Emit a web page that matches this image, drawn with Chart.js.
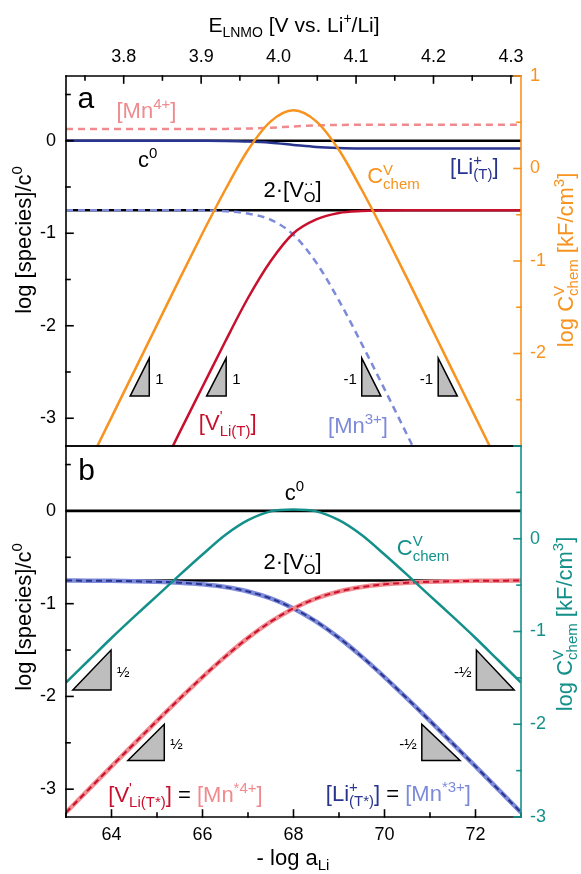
<!DOCTYPE html>
<html>
<head>
<meta charset="utf-8">
<script src="https://cdn.jsdelivr.net/npm/chart.js@4.4.1/dist/chart.umd.min.js"></script>
<style>
  body { margin: 0; background: #fff; }
  #wrap { position: relative; width: 581px; height: 874px; }
  #chartA { position: absolute; left: 0; top: 0; }
  #chartB { position: absolute; left: 0; top: 440px; }
</style>
</head>
<body>
<div id="wrap">
  <canvas id="chartA" width="581" height="452"></canvas>
  <canvas id="chartB" width="581" height="434"></canvas>
</div>
<script>
// -log a_Li grid used by every curve
var logA = [63, 63.5, 64, 64.5, 65, 65.5, 66, 66.5, 67, 67.5, 68, 68.5, 69, 69.5, 70, 70.5, 71, 71.5, 72, 72.5, 73];

// constant reference lines (c0 and 2[V_O])
var flatX = [63, 73];
var c0Line = [0, 0];
var vo2Line = [-0.75, -0.75];

// panel a, log [species]/c0
var mn4A = [0.126, 0.126, 0.126, 0.126, 0.126, 0.126, 0.127, 0.128, 0.132, 0.141, 0.155, 0.166, 0.171, 0.173, 0.174, 0.174, 0.174, 0.174, 0.174, 0.174, 0.174];
var liA  = [0, 0, 0, 0, 0, 0, -0.001, -0.003, -0.009, -0.022, -0.045, -0.067, -0.078, -0.083, -0.084, -0.085, -0.085, -0.085, -0.085, -0.085, -0.085];
var vliA = [-5.65, -5.15, -4.65, -4.15, -3.65, -3.15, -2.66, -2.17, -1.70, -1.30, -1.00, -0.85, -0.78, -0.76, -0.754, -0.751, -0.75, -0.75, -0.75, -0.75, -0.75];
var mn3A = [-0.75, -0.75, -0.75, -0.75, -0.75, -0.751, -0.754, -0.761, -0.787, -0.854, -1.017, -1.317, -1.728, -2.196, -2.685, -3.182, -3.68, -4.18, -4.68, -5.18, -5.68];
// panel a, log C_chem [kF/cm3]
var cchemA = [-3.69, -3.19, -2.69, -2.19, -1.69, -1.19, -0.70, -0.23, 0.20, 0.51, 0.63, 0.51, 0.20, -0.23, -0.70, -1.19, -1.69, -2.19, -2.69, -3.19, -3.69];

// panel b
var vliB = [-3.251, -3.002, -2.754, -2.508, -2.264, -2.024, -1.791, -1.571, -1.369, -1.194, -1.051, -0.944, -0.869, -0.821, -0.791, -0.774, -0.764, -0.758, -0.754, -0.752, -0.751];
var liB  = [-0.751, -0.752, -0.754, -0.758, -0.764, -0.774, -0.791, -0.821, -0.869, -0.944, -1.051, -1.194, -1.369, -1.571, -1.791, -2.024, -2.264, -2.508, -2.754, -3.002, -3.251];
var cchemB = [-1.55, -1.31, -1.07, -0.84, -0.616, -0.39, -0.17, 0.04, 0.20, 0.295, 0.315, 0.295, 0.20, 0.04, -0.17, -0.39, -0.616, -0.84, -1.07, -1.31, -1.55];

// axis ranges and ticks
var eRange = [3.7255, 4.313];
var eTicks = [3.8, 3.9, 4.0, 4.1, 4.2, 4.3];
var eMinor = [3.75, 3.85, 3.95, 4.05, 4.15, 4.25];
var logATicks = [64, 66, 68, 70, 72];
var logAMinor = [63, 65, 67, 69, 71, 73];
var speciesTicks = [-3, -2, -1, 0];
var halfMinor = [-2.5, -1.5, -0.5, 0.5];
var cchemTicksA = [-2, -1, 0, 1];
var cchemTicksB = [-3, -2, -1, 0];

var FONT = '"Liberation Sans", Arial, sans-serif';
var ORANGE = '#F7931E', TEAL = '#14908A', RED = '#C8102E', PINK = '#F08A8E',
    NAVY = '#28348E', LBLUE = '#7D8AD9', BLACK = '#000000';

function pts(xs, ys) {
  return xs.map(function (x, i) { return { x: x, y: ys[i] }; });
}

function curve(data, color, width, extra) {
  return Object.assign({
    data: data, borderColor: color, borderWidth: width, pointRadius: 0,
    fill: false, cubicInterpolationMode: 'monotone', clip: 0
  }, extra || {});
}

// text with sub/superscripts: parts are {t}, {sup}, {sub} or {sup, sub} stacked
function richWidth(ctx, parts, size) {
  var w = 0;
  parts.forEach(function (p) {
    if (p.t !== undefined) {
      ctx.font = size + 'px ' + FONT;
      w += ctx.measureText(p.t).width;
    } else {
      ctx.font = Math.round(size * 0.68) + 'px ' + FONT;
      w += Math.max(p.sup ? ctx.measureText(p.sup).width : 0, p.sub ? ctx.measureText(p.sub).width : 0);
    }
  });
  return w;
}

function drawRich(ctx, parts, x, y, size, color, align) {
  var cx = x;
  if (align === 'center') cx -= richWidth(ctx, parts, size) / 2;
  ctx.textAlign = 'left';
  ctx.textBaseline = 'alphabetic';
  parts.forEach(function (p) {
    ctx.fillStyle = p.c || color;
    if (p.t !== undefined) {
      ctx.font = size + 'px ' + FONT;
      ctx.fillText(p.t, cx, y);
      cx += ctx.measureText(p.t).width;
    } else {
      ctx.font = Math.round(size * 0.68) + 'px ' + FONT;
      var w = 0;
      if (p.sup) { ctx.fillText(p.sup, cx, y - size * 0.4); w = ctx.measureText(p.sup).width; }
      if (p.sub) { ctx.fillText(p.sub, cx, y + size * 0.24); w = Math.max(w, ctx.measureText(p.sub).width); }
      cx += w;
    }
  });
}

// in-plot labels, placed in data units (left edge, baseline)
var labelsA = [
  { x: 63.25, y: 0.354, size: 30, color: BLACK, parts: [{ t: 'a' }] },
  { x: 64.11, y: 0.243, size: 22, color: PINK, parts: [{ t: '[Mn' }, { sup: '4+' }, { t: ']' }] },
  { x: 64.58, y: -0.28, size: 22, color: BLACK, parts: [{ t: 'c' }, { sup: '0' }] },
  { x: 67.34, y: -0.605, size: 22, color: BLACK, parts: [{ t: '2·[V' }, { sup: '··', sub: 'O' }, { t: ']' }] },
  { x: 69.62, y: -0.46, size: 22, color: ORANGE, parts: [{ t: 'C' }, { sup: 'V', sub: 'chem' }] },
  { x: 71.44, y: -0.36, size: 22, color: NAVY, parts: [{ t: '[Li' }, { sup: '+', sub: '(T)' }, { t: ']' }] },
  { x: 65.92, y: -3.13, size: 22, color: RED, parts: [{ t: '[V' }, { sup: '\'', sub: 'Li(T)' }, { t: ']' }] },
  { x: 68.76, y: -3.16, size: 22, color: LBLUE, parts: [{ t: '[Mn' }, { sup: '3+' }, { t: ']' }] }
];

var labelsB = [
  { x: 63.27, y: 0.332, size: 30, color: BLACK, parts: [{ t: 'b' }] },
  { x: 67.81, y: 0.116, size: 22, color: BLACK, parts: [{ t: 'c' }, { sup: '0' }] },
  { x: 67.34, y: -0.622, size: 22, color: BLACK, parts: [{ t: '2·[V' }, { sup: '··', sub: 'O' }, { t: ']' }] },
  { x: 70.27, y: -0.478, size: 22, color: TEAL, parts: [{ t: 'C' }, { sup: 'V', sub: 'chem' }] },
  { x: 63.93, y: -3.135, size: 22, color: BLACK, parts: [
    { t: '[V', c: RED }, { sup: '\'', sub: 'Li(T*)', c: RED }, { t: ']', c: RED }, { t: ' = ' },
    { t: '[Mn', c: PINK }, { sup: '*4+', c: PINK }, { t: ']', c: PINK }] },
  { x: 68.71, y: -3.127, size: 22, color: BLACK, parts: [
    { t: '[Li', c: NAVY }, { sup: '+', sub: '(T*)', c: NAVY }, { t: ']', c: NAVY }, { t: ' = ' },
    { t: '[Mn', c: LBLUE }, { sup: '*3+', c: LBLUE }, { t: ']', c: LBLUE }] }
];

// slope triangles: x/y extents in data units, 'up' = rising hypotenuse
var slopesA = [
  { x0: 64.41, x1: 64.83, y0: -2.76, y1: -2.35, dir: 'up', text: '1' },
  { x0: 66.09, x1: 66.52, y0: -2.76, y1: -2.35, dir: 'up', text: '1' },
  { x0: 69.50, x1: 69.92, y0: -2.76, y1: -2.35, dir: 'down', text: '-1' },
  { x0: 71.18, x1: 71.60, y0: -2.76, y1: -2.35, dir: 'down', text: '-1' }
];
var slopesB = [
  { x0: 63.15, x1: 63.99, y0: -1.93, y1: -1.50, dir: 'up', text: '½' },
  { x0: 64.36, x1: 65.16, y0: -2.69, y1: -2.30, dir: 'up', text: '½' },
  { x0: 70.82, x1: 71.66, y0: -2.69, y1: -2.30, dir: 'down', text: '-½' },
  { x0: 72.02, x1: 72.85, y0: -1.93, y1: -1.50, dir: 'down', text: '-½' }
];

// frame with inward ticks, one entry per side
function framePlugin(sides) {
  return {
    id: 'frame',
    afterDatasetsDraw: function (chart) {
      var ctx = chart.ctx, a = chart.chartArea;
      ctx.save();
      ctx.lineWidth = 1.6;
      ctx.lineCap = 'square';
      sides.forEach(function (s) {
        ctx.strokeStyle = s.color;
        ctx.beginPath();
        if (s.side === 'left') { ctx.moveTo(a.left, a.top); ctx.lineTo(a.left, a.bottom); }
        if (s.side === 'right') { ctx.moveTo(a.right, a.top); ctx.lineTo(a.right, a.bottom); }
        if (s.side === 'top') { ctx.moveTo(a.left, a.top); ctx.lineTo(a.right, a.top); }
        if (s.side === 'bottom') { ctx.moveTo(a.left, a.bottom); ctx.lineTo(a.right, a.bottom); }
        ctx.stroke();
        if (!s.axis) return;
        var sc = chart.scales[s.axis];
        [[s.major, 7], [s.minor, 4]].forEach(function (set) {
          set[0].forEach(function (v) {
            var p = sc.getPixelForValue(v);
            ctx.beginPath();
            if (s.side === 'left') { ctx.moveTo(a.left, p); ctx.lineTo(a.left + set[1], p); }
            if (s.side === 'right') { ctx.moveTo(a.right, p); ctx.lineTo(a.right - set[1], p); }
            if (s.side === 'top') { ctx.moveTo(p, a.top); ctx.lineTo(p, a.top + set[1]); }
            if (s.side === 'bottom') { ctx.moveTo(p, a.bottom); ctx.lineTo(p, a.bottom - set[1]); }
            ctx.stroke();
          });
        });
      });
      ctx.restore();
    }
  };
}

// slope triangles, in-plot labels and axis titles
function notesPlugin(slopes, labels, titles) {
  return {
    id: 'notes',
    afterDraw: function (chart) {
      var ctx = chart.ctx, sx = chart.scales.x, sy = chart.scales.y;
      ctx.save();
      slopes.forEach(function (t) {
        var l = sx.getPixelForValue(t.x0), r = sx.getPixelForValue(t.x1);
        var b = sy.getPixelForValue(t.y0), tp = sy.getPixelForValue(t.y1);
        ctx.beginPath();
        if (t.dir === 'up') { ctx.moveTo(l, b); ctx.lineTo(r, b); ctx.lineTo(r, tp); }
        else { ctx.moveTo(l, tp); ctx.lineTo(l, b); ctx.lineTo(r, b); }
        ctx.closePath();
        ctx.fillStyle = '#BEBEBE';
        ctx.fill();
        ctx.strokeStyle = BLACK;
        ctx.lineWidth = 1.5;
        ctx.lineJoin = 'miter';
        ctx.stroke();
        var ym = b + (tp - b) * 0.42;
        ctx.fillStyle = BLACK;
        ctx.font = '15px ' + FONT;
        ctx.textBaseline = 'middle';
        if (t.dir === 'up') { ctx.textAlign = 'left'; ctx.fillText(t.text, r + 6, ym); }
        else { ctx.textAlign = 'right'; ctx.fillText(t.text, l - 5, ym); }
      });
      labels.forEach(function (lb) {
        drawRich(ctx, lb.parts, sx.getPixelForValue(lb.x), sy.getPixelForValue(lb.y), lb.size, lb.color, 'left');
      });
      titles.forEach(function (tt) {
        ctx.save();
        ctx.translate(tt.x, tt.y);
        if (tt.rotate) ctx.rotate(-Math.PI / 2);
        drawRich(ctx, tt.parts, 0, 0, tt.size, tt.color, 'center');
        ctx.restore();
      });
      ctx.restore();
    }
  };
}

// tick labels only; the frame plugin draws lines and tick marks
function tickLabels(values, color, pad, size, fmt) {
  return {
    grid: { display: false, drawTicks: false },
    border: { display: false },
    afterBuildTicks: function (s) { s.ticks = values.map(function (v) { return { value: v }; }); },
    ticks: {
      color: color, padding: pad, autoSkip: false, maxRotation: 0,
      font: { family: FONT, size: size },
      callback: fmt || function (v) { return String(v); }
    }
  };
}

function fixWidth(w) {
  return function (s) { s.width = w; s.paddingTop = 0; s.paddingBottom = 0; };
}
function fixHeight(h) {
  return function (s) { s.height = h; s.paddingLeft = 0; s.paddingRight = 0; };
}

var speciesTitle = [{ t: 'log [species]/c' }, { sup: '0' }];
var cchemTitle = [{ t: 'log C' }, { sup: 'V', sub: 'chem' }, { t: ' [kF/cm' }, { sup: '3' }, { t: ']' }];

// panel a
new Chart(document.getElementById('chartA').getContext('2d'), {
  type: 'line',
  data: {
    datasets: [
      curve(pts(logA, cchemA), ORANGE, 2.5, { yAxisID: 'yR' }),
      curve(pts(logA, vliA), RED, 2.5),
      curve(pts(logA, mn3A), LBLUE, 2.5, { borderDash: [7, 5] }),
      curve(pts(logA, liA), NAVY, 2.5),
      curve(pts(logA, mn4A), PINK, 2.5, { borderDash: [7, 5] }),
      curve(pts(flatX, c0Line), BLACK, 2.5),
      curve(pts(flatX, vo2Line), BLACK, 2.5)
    ]
  },
  options: {
    responsive: false, animation: false, devicePixelRatio: 1,
    layout: { padding: { top: 0, bottom: 6, left: 0, right: 0 } },
    plugins: { legend: { display: false }, tooltip: { enabled: false } },
    scales: {
      x: { type: 'linear', min: 63, max: 73, display: false },
      xTop: Object.assign(tickLabels(eTicks, BLACK, 8, 18, function (v) { return v.toFixed(1); }), {
        type: 'linear', position: 'top', min: eRange[0], max: eRange[1],
        afterFit: fixHeight(76)
      }),
      y: Object.assign(tickLabels(speciesTicks, BLACK, 10, 18), {
        type: 'linear', position: 'left', min: -3.3, max: 0.7,
        afterFit: fixWidth(66)
      }),
      yR: Object.assign(tickLabels(cchemTicksA, ORANGE, 9, 18), {
        type: 'linear', position: 'right', min: -3, max: 1,
        afterFit: fixWidth(60)
      })
    }
  },
  plugins: [
    framePlugin([
      { side: 'bottom', color: BLACK },
      { side: 'left', color: BLACK, axis: 'y', major: speciesTicks, minor: halfMinor },
      { side: 'top', color: BLACK, axis: 'xTop', major: eTicks, minor: eMinor },
      { side: 'right', color: ORANGE, axis: 'yR', major: [-3, -2, -1, 0, 1], minor: halfMinor }
    ]),
    notesPlugin(slopesA, labelsA, [
      { x: 294, y: 31.5, size: 21, color: BLACK, parts: [{ t: 'E' }, { sub: 'LNMO' }, { t: ' [V vs. Li' }, { sup: '+' }, { t: '/Li]' }] },
      { x: 30.5, y: 240, size: 22, color: BLACK, rotate: true, parts: speciesTitle },
      { x: 573, y: 260, size: 22, color: ORANGE, rotate: true, parts: cchemTitle }
    ])
  ]
});

// panel b
new Chart(document.getElementById('chartB').getContext('2d'), {
  type: 'line',
  data: {
    datasets: [
      curve(pts(logA, cchemB), TEAL, 2.5, { yAxisID: 'yR' }),
      curve(pts(logA, vliB), RED, 2, { borderDash: [6, 4] }),
      curve(pts(logA, vliB), PINK, 4.5),
      curve(pts(logA, liB), NAVY, 2, { borderDash: [6, 4] }),
      curve(pts(logA, liB), LBLUE, 4.5),
      curve(pts(flatX, c0Line), BLACK, 2.8),
      curve(pts(flatX, vo2Line), BLACK, 2.5)
    ]
  },
  options: {
    responsive: false, animation: false, devicePixelRatio: 1,
    layout: { padding: { top: 6, bottom: 0, left: 0, right: 0 } },
    plugins: { legend: { display: false }, tooltip: { enabled: false } },
    scales: {
      x: Object.assign(tickLabels(logATicks, BLACK, 7, 18), {
        type: 'linear', position: 'bottom', min: 63, max: 73,
        afterFit: fixHeight(57)
      }),
      y: Object.assign(tickLabels(speciesTicks, BLACK, 10, 18), {
        type: 'linear', position: 'left', min: -3.3, max: 0.7,
        afterFit: fixWidth(66)
      }),
      yR: Object.assign(tickLabels(cchemTicksB, TEAL, 9, 18), {
        type: 'linear', position: 'right', min: -3, max: 1,
        afterFit: fixWidth(60)
      })
    }
  },
  plugins: [
    framePlugin([
      { side: 'top', color: BLACK },
      { side: 'left', color: BLACK, axis: 'y', major: speciesTicks, minor: halfMinor },
      { side: 'bottom', color: BLACK, axis: 'x', major: logATicks, minor: logAMinor },
      { side: 'right', color: TEAL, axis: 'yR', major: [-3, -2, -1, 0, 1], minor: halfMinor }
    ]),
    notesPlugin(slopesB, labelsB, [
      { x: 30.5, y: 177, size: 22, color: BLACK, rotate: true, parts: speciesTitle },
      { x: 572, y: 184, size: 22, color: TEAL, rotate: true, parts: cchemTitle },
      { x: 293, y: 425, size: 22, color: BLACK, parts: [{ t: '- log a' }, { sub: 'Li' }] }
    ])
  ]
});
</script>
</body>
</html>
